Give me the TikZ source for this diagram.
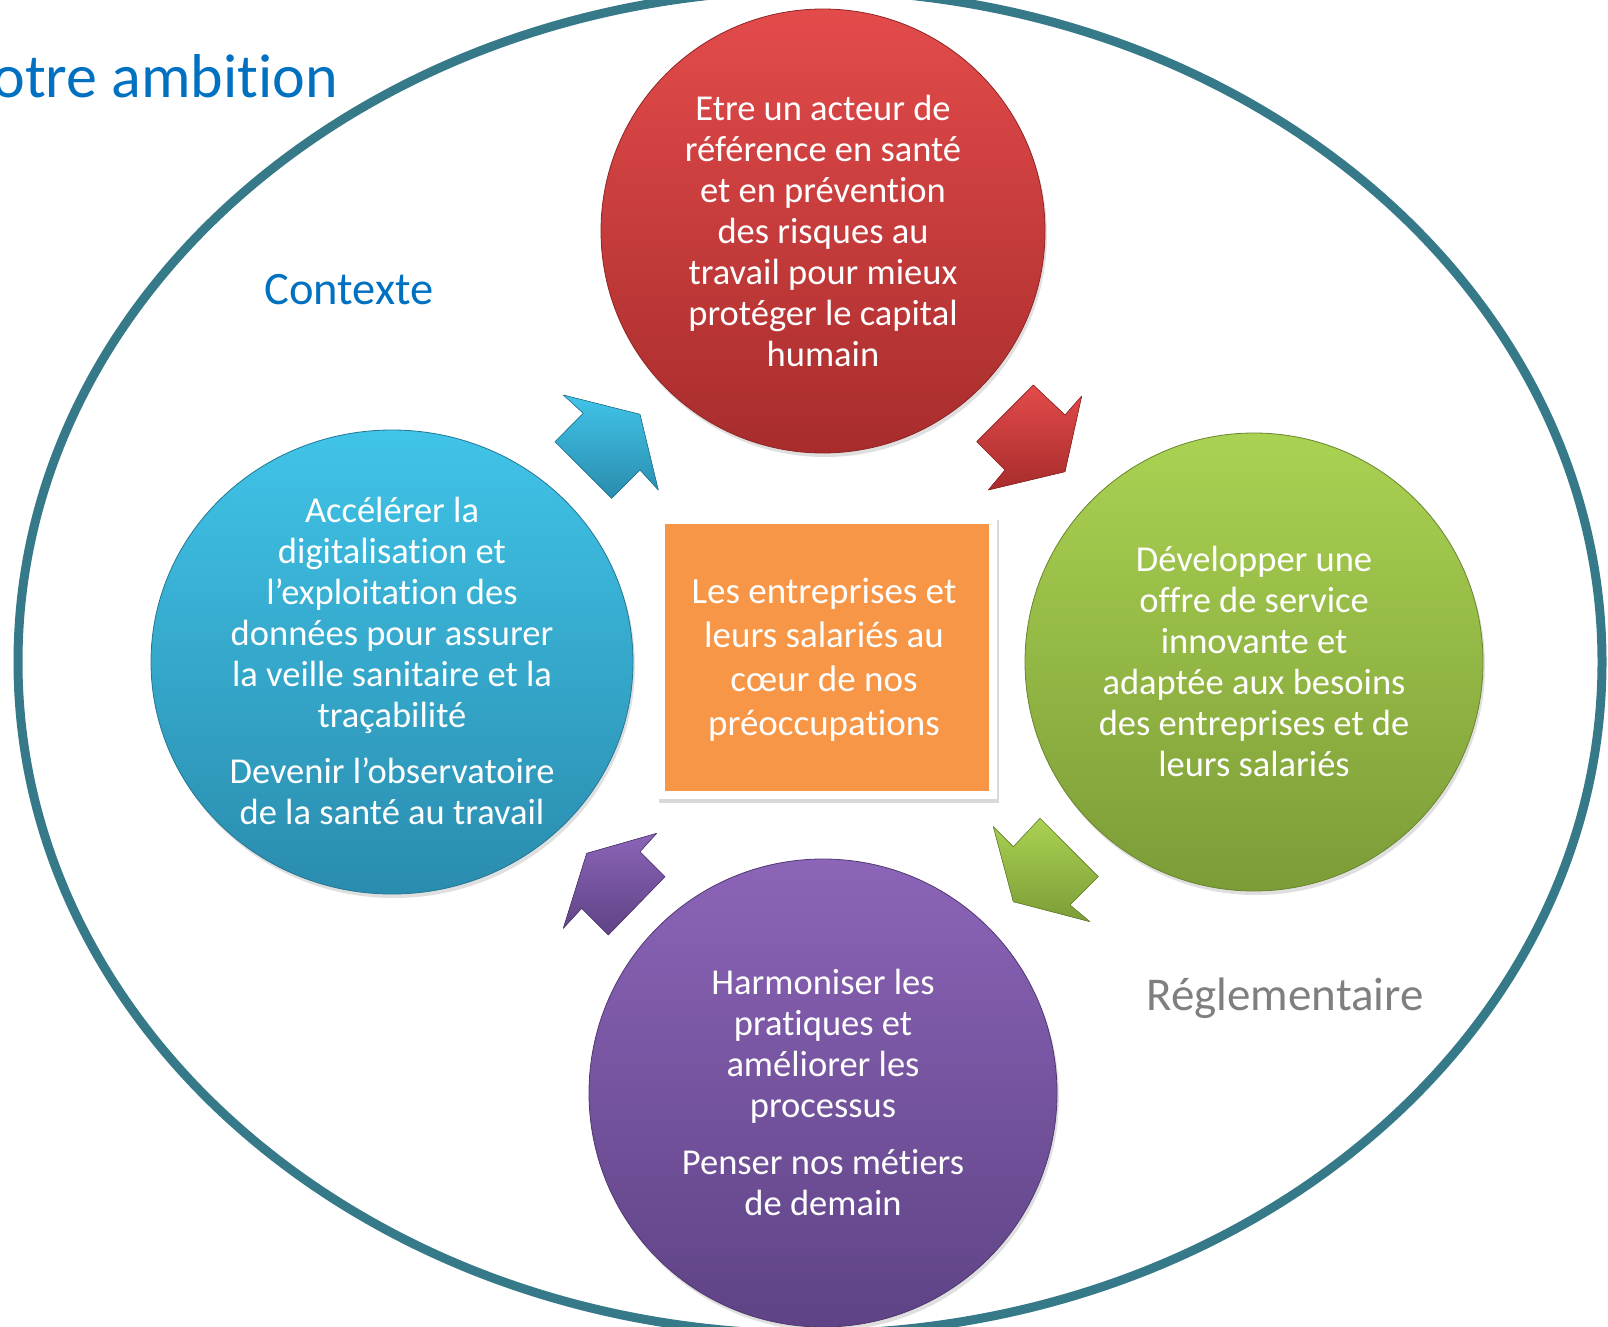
\documentclass[tikz,border=0pt]{standalone}
\usepackage{fontspec}
\setmainfont[Ligatures={NoCommon}]{Carlito}
\usetikzlibrary{shadows,shapes.geometric}
\definecolor{ringc}{HTML}{367A8A}
\definecolor{titc}{HTML}{0070C0}
\definecolor{grayc}{HTML}{7F7F7F}
\definecolor{redT}{HTML}{E34B4B}
\definecolor{redB}{HTML}{A82C2C}
\definecolor{grnT}{HTML}{AAD252}
\definecolor{grnB}{HTML}{7C9C37}
\definecolor{bluT}{HTML}{40C4E8}
\definecolor{bluB}{HTML}{2A8CAE}
\definecolor{purT}{HTML}{8C64B8}
\definecolor{purB}{HTML}{5E4385}
\definecolor{orng}{HTML}{F79646}
\begin{document}
\begin{tikzpicture}[x=1pt,y=-1pt,
  bubble/.style={inner sep=0pt, top color=#1T, bottom color=#1B, draw=#1B!85!black, line width=0.8pt,
    drop shadow={opacity=0.25, shadow xshift=2pt, shadow yshift=-4pt}},
  arrowshape/.style={top color=#1T, bottom color=#1B, draw=#1B!85!black, line width=0.6pt, line join=round},
  ctext/.style={text=white, align=center, font=\fontsize{36.5}{41}\selectfont, inner sep=0pt},
]
\useasboundingbox (0,0) rectangle (1608,1327);
\clip (0,0) rectangle (1608,1327);
% outer ring
\draw[ringc, line width=9pt] (810,662) ellipse [x radius=792pt, y radius=672pt];
% title and labels
\node[anchor=base east, inner sep=0pt, text=titc, font=\fontsize{62}{70}\selectfont] (title) at (338,98) {Notre ambition};
\node[inner sep=0pt, text=titc, font=\fontsize{46.5}{52}\selectfont] (ctx) at (349,290) {Contexte};
\node[inner sep=0pt, text=grayc, font=\fontsize{47}{52}\selectfont] (regl) at (1285,998) {Réglementaire};
% circles
\node[bubble=red, circle, minimum size=444pt] (red) at (823,231) {};
\node[bubble=grn, circle, minimum size=458pt] (grn) at (1254,662) {};
\node[bubble=blu, ellipse, minimum width=482pt, minimum height=464pt] (blu) at (392,662) {};
\node[bubble=pur, circle, minimum size=468pt] (pur) at (823,1093) {};
% arrows
\filldraw[arrowshape=blu] (563.3,395) -- (583.3,413.3) -- (555,441.7) -- (611.7,498.3) -- (640,470) -- (658.3,490) -- (640,414.3) -- cycle;
\filldraw[arrowshape=red] (1033.3,385) -- (1065,415) -- (1081.7,396) -- (1065,471.7) -- (988.3,490) -- (1005,470) -- (976.7,441.7) -- cycle;
\filldraw[arrowshape=grn] (993.3,826.7) -- (1013.3,846.7) -- (1040,818.3) -- (1098.3,876.7) -- (1070,905) -- (1090,921.7) -- (1013.3,901.7) -- cycle;
\filldraw[arrowshape=pur] (656.7,833.3) -- (640,851.7) -- (665,876.7) -- (608.3,935) -- (581.7,908.3) -- (563.3,928.3) -- (586.7,853.3) -- cycle;
% center box
\node[fill=white, minimum width=340pt, minimum height=283pt, inner sep=0pt,
  drop shadow={opacity=0.3, shadow xshift=2pt, shadow yshift=-4pt}] (frame) at (827,657.5) {};
\node[fill=orng, minimum width=324pt, minimum height=267pt, inner sep=0pt] (core) at (frame.center) {};
\node[text=white, align=center, inner sep=0pt, font=\fontsize{37}{44}\selectfont] (coretxt) at (824,660)
  {Les entreprises et\\leurs salariés au\\cœur de nos\\préoccupations};
% texts
\node[ctext] (redtxt) at (823,231) {Etre un acteur de\\référence en santé\\et en prévention\\des risques au\\travail pour mieux\\protéger le capital\\humain};
\node[ctext] (blutxt) at (392,661) {Accélérer la\\digitalisation et\\l’exploitation des\\données pour assurer\\la veille sanitaire et la\\traçabilité\\[15pt]Devenir l’observatoire\\de la santé au travail};
\node[ctext] (grntxt) at (1254,661.5) {Développer une\\offre de service\\innovante et\\adaptée aux besoins\\des entreprises et de\\leurs salariés};
\node[ctext] (purtxt) at (823,1092.5) {Harmoniser les\\pratiques et\\améliorer les\\processus\\[16pt]Penser nos métiers\\de demain};
\end{tikzpicture}
\end{document}
